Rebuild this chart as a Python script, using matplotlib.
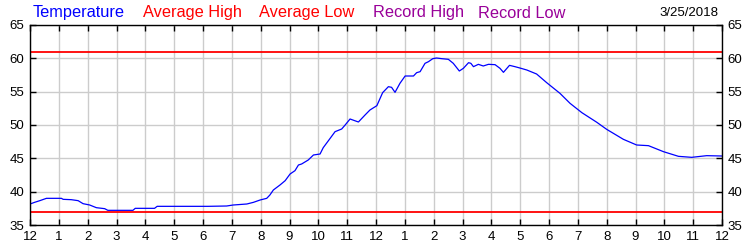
import matplotlib
matplotlib.use("Agg")
import matplotlib.pyplot as plt

# hours since midnight and temperature (F)
hours = [0.0, 0.16, 0.34, 0.57, 1.09, 1.15, 1.43, 1.67, 1.84, 2.07, 2.3, 2.59, 2.7,
         3.57, 3.65, 4.32, 4.41, 6.17, 6.82, 7.05, 7.52, 7.75, 7.98, 8.21, 8.32,
         8.44, 8.67, 8.85, 9.02, 9.19, 9.31, 9.42, 9.65, 9.83, 10.06, 10.17, 10.41,
         10.58, 10.81, 10.93, 11.1, 11.39, 11.62, 11.79, 12.03, 12.23, 12.43, 12.54,
         12.66, 12.83, 13.01, 13.3, 13.41, 13.53, 13.7, 13.82, 13.97, 14.1, 14.28,
         14.51, 14.68, 14.89, 15.03, 15.21, 15.29, 15.38, 15.55, 15.72, 15.9, 16.13,
         16.3, 16.42, 16.63, 16.82, 16.99, 17.23, 17.57, 17.92, 18.38, 18.73, 19.14,
         19.66, 20.0, 20.58, 21.04, 21.45, 21.97, 22.49, 22.95, 23.47, 24.0]
temps = [38.15, 38.4, 38.65, 39.0, 39.0, 38.85, 38.8, 38.65, 38.2, 38.0, 37.6, 37.45, 37.2,
         37.2, 37.5, 37.5, 37.8, 37.8, 37.85, 38.0, 38.15, 38.4, 38.75, 39.0, 39.5,
         40.25, 41.0, 41.65, 42.65, 43.15, 44.0, 44.15, 44.75, 45.5, 45.65, 46.6, 48.0,
         49.0, 49.4, 50.0, 50.9, 50.45, 51.5, 52.25, 52.9, 54.85, 55.75, 55.65,
         54.9, 56.25, 57.35, 57.35, 57.85, 58.0, 59.25, 59.5, 59.95, 60.05, 59.95,
         59.85, 59.25, 58.1, 58.5, 59.35, 59.25, 58.75, 59.1, 58.85, 59.1, 59.05,
         58.5, 57.9, 58.95, 58.75, 58.55, 58.25, 57.65, 56.35, 54.75, 53.25, 51.85,
         50.4, 49.35, 47.85, 47.0, 46.9, 46.0, 45.3, 45.15, 45.4, 45.35]
avg_high = 60.9
avg_low = 36.9

hour_ticks = list(range(25))
hour_labels = ["12"] + [str(h) for h in range(1, 12)] + ["12"] + [str(h) for h in range(1, 12)] + ["12"]
temp_ticks = [35, 40, 45, 50, 55, 60, 65]

legend_names = ["Temperature", "Average High", "Average Low", "Record High", "Record Low"]
legend_colors = ["#0000ff", "#ff0000", "#ff0000", "#990099", "#990099"]
legend_x = [33, 143, 259, 373, 478]
date_text = "3/25/2018"

plt.rcParams['font.family'] = ['Liberation Sans', 'DejaVu Sans']

fig = plt.figure(figsize=(7.5, 2.5), dpi=100)
ax = fig.add_axes([30 / 750, 25 / 250, 692 / 750, 200 / 250])

ax.plot(hours, temps, color="#0000ff", lw=0.9)
ax.axhline(avg_high, color="#ff0000", lw=1.3)
ax.axhline(avg_low, color="#ff0000", lw=1.3)

ax.set_xlim(0, 24)
ax.set_ylim(35, 65)
ax.set_xticks(hour_ticks)
ax.set_xticklabels(hour_labels)
ax.set_yticks(temp_ticks)
ax.grid(True, color="#cccccc", lw=1)
ax.set_axisbelow(True)
ax.tick_params(direction="in", length=4, width=1, labelsize=9.5, colors="black",
               top=True, right=True, labelright=True)
ax.tick_params(axis="y", which="both", pad=4)
ax.tick_params(axis="x", pad=4)
for s in ax.spines.values():
    s.set_color("black")
    s.set_linewidth(1)

for name, col, x in zip(legend_names, legend_colors, legend_x):
    fig.text(x / 750, 1 - 13 / 250, name, color=col, fontsize=11.8, va="center", ha="left")
fig.text(718 / 750, 1 - 13 / 250, date_text, color="black", fontsize=9.5, va="center", ha="right")

fig.savefig("out.png", dpi=100)
